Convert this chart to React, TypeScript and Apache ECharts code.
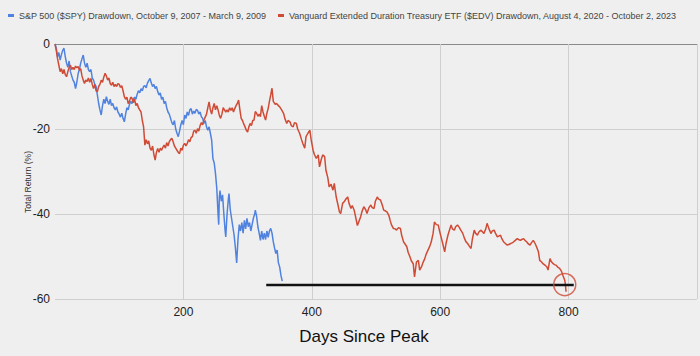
import React, { useEffect, useRef } from "react";
import * as echarts from "echarts";

const spyName = "S&P 500 ($SPY) Drawdown, October 9, 2007 - March 9, 2009";
const edvName =
  "Vanguard Extended Duration Treasury ETF ($EDV) Drawdown, August 4, 2020 - October 2, 2023";
const xTitle = "Days Since Peak";
const yTitle = "Total Return (%)";

// [day since peak, total return %]
const spyDrawdown: [number, number][] = [
  [0, 0], [2, -1], [4, -3], [6, -2], [8, -3.8], [10, -2.5], [12, -1.5], [14, -1], [16, -3], [18, -4.5],
  [20, -5.5], [22, -4], [24, -6.5], [26, -7.5], [28, -8.5], [30, -9], [32, -10.5], [34, -9], [36, -7], [38, -6],
  [40, -4.5], [42, -3.5], [44, -2.6], [46, -4.5], [48, -5.5], [50, -4.5], [52, -6], [54, -6.5], [56, -6], [58, -8],
  [60, -8.5], [62, -9.5], [64, -10], [66, -12], [68, -14], [70, -15.5], [72, -16.7], [74, -14.5], [76, -13], [78, -14],
  [80, -12.4], [82, -13.5], [84, -14.2], [86, -13], [88, -14.5], [90, -14], [92, -15], [94, -15.5], [96, -14.8], [98, -16],
  [100, -16.5], [102, -17.2], [104, -16.3], [106, -17.5], [108, -18.3], [110, -16.5], [112, -15], [114, -15.5], [116, -14.2], [118, -13.5],
  [120, -14], [122, -13], [124, -12.5], [126, -13], [128, -11.8], [130, -11], [132, -11.5], [134, -10.5], [136, -11], [138, -10],
  [140, -9.8], [142, -10.3], [144, -9.2], [146, -8.6], [148, -8.1], [150, -9.2], [152, -10], [154, -9.5], [156, -10.5], [158, -10],
  [160, -11.2], [162, -12], [164, -11.5], [166, -13], [168, -12.5], [170, -14], [172, -13.5], [174, -15], [176, -16], [178, -16.5],
  [180, -17.5], [182, -18.5], [184, -19], [186, -18], [188, -20], [190, -21], [192, -21.8], [194, -20.5], [196, -19], [198, -18],
  [200, -19], [202, -16.7], [204, -17.5], [206, -16], [208, -16.8], [210, -15.5], [212, -15.2], [214, -16.5], [216, -15.8], [218, -16.3],
  [220, -15.4], [222, -15.6], [224, -16.5], [226, -16], [228, -17.1], [230, -17.5], [232, -18.7], [234, -18], [236, -19.5], [238, -20.3],
  [240, -19.5], [242, -21], [244, -22.6], [246, -27], [248, -28], [250, -30.5], [252, -34], [254, -40], [255, -42.5], [256, -36],
  [257, -34.5], [259, -37], [261, -35.5], [263, -40], [265, -44], [266, -45.4], [268, -40], [270, -36.5], [271, -35.2], [273, -39],
  [275, -41], [277, -43], [279, -45], [281, -48], [283, -51.5], [285, -46], [287, -42.5], [289, -44], [291, -42], [293, -44.5],
  [295, -41.5], [297, -43.5], [299, -41], [301, -43], [303, -42], [305, -44], [307, -42.5], [309, -41], [311, -40], [312, -39.1],
  [314, -40.5], [316, -43], [318, -44.5], [320, -46.2], [322, -44], [324, -46], [326, -44.5], [328, -46], [330, -44], [332, -45.5],
  [334, -44], [336, -43.4], [338, -44.5], [340, -46.5], [342, -48], [344, -49.3], [346, -48.5], [348, -51.5], [350, -52.5], [352, -54.5],
  [354, -55.8],
];

const edvDrawdown: [number, number][] = [
  [0, 0], [2, -1.5], [4, -3.5], [6, -5], [8, -6.5], [10, -5.8], [12, -7], [14, -6], [16, -7.2], [18, -7.7],
  [20, -6.5], [22, -5.5], [24, -5], [26, -6], [28, -5.5], [30, -6], [32, -5.2], [34, -5.6], [36, -5.3], [38, -6.2],
  [40, -5.8], [42, -7.5], [44, -8.5], [46, -9.3], [48, -8.5], [50, -8.8], [52, -8], [54, -9], [56, -8.1], [58, -9.5],
  [60, -10.5], [62, -9.5], [64, -11], [66, -11.2], [68, -10], [70, -9.5], [72, -8.5], [74, -9], [76, -7.8], [78, -6.9],
  [80, -7.5], [82, -8.5], [84, -8], [86, -9.3], [88, -9.7], [90, -9], [92, -10], [94, -9.5], [96, -10], [98, -9.3],
  [100, -9.5], [102, -10.2], [104, -9.8], [106, -11], [108, -12.4], [110, -13], [112, -12.5], [114, -14], [116, -13.5], [118, -12.5],
  [120, -12.8], [122, -13.8], [124, -13], [126, -14.5], [128, -14], [130, -15], [132, -15.5], [134, -16], [136, -18], [138, -19.5],
  [140, -23.8], [142, -22.5], [144, -23.5], [146, -22.8], [148, -24.5], [150, -25], [152, -24], [154, -26], [156, -27.3], [158, -25.5],
  [160, -24.6], [162, -25.5], [164, -24.5], [166, -25], [168, -24.3], [170, -23.8], [172, -24.5], [174, -23.2], [176, -24], [178, -23],
  [180, -22.5], [182, -22.2], [184, -23], [186, -24], [188, -24.5], [190, -25], [192, -25.5], [194, -25.8], [196, -24.5], [198, -25],
  [200, -23.8], [202, -23.4], [204, -24], [206, -23.4], [208, -22.5], [210, -23], [212, -22], [214, -21.8], [216, -20.5], [218, -20.3],
  [220, -21], [222, -19.9], [224, -20.5], [226, -19.2], [228, -18.5], [230, -19], [232, -17.9], [234, -17.2], [236, -16.5], [238, -15],
  [240, -13.6], [242, -15.5], [244, -16.5], [246, -15], [248, -14], [250, -15.5], [252, -14.5], [254, -15.5], [256, -16.8], [258, -17.5],
  [260, -16.5], [262, -15], [264, -15.5], [266, -16], [268, -15.5], [270, -16], [272, -15], [274, -15.6], [276, -15], [278, -16],
  [280, -15.2], [282, -14.5], [284, -14], [286, -13.2], [288, -15.5], [290, -17.5], [292, -18], [294, -18.8], [296, -19.5], [298, -20.3],
  [300, -20.7], [302, -19.5], [304, -18.7], [306, -19.2], [308, -18], [310, -17.9], [312, -15.9], [314, -16.3], [316, -17], [318, -16.5],
  [320, -17.1], [322, -14.5], [324, -16], [326, -17], [328, -17.9], [330, -16.3], [332, -15.2], [334, -13.5], [336, -12], [338, -10.4],
  [340, -13.5], [343, -14.2], [345, -14], [348, -14.5], [350, -14.8], [353, -15.5], [356, -16.3], [358, -17.5], [361, -18.7], [363, -18],
  [366, -18.3], [368, -19.2], [371, -19.5], [373, -18.5], [376, -18.7], [378, -20], [381, -21], [384, -22.5], [386, -23.4], [389, -24.5],
  [391, -21.8], [394, -21], [397, -20.3], [399, -22.5], [402, -25], [404, -26], [407, -26.9], [410, -26.1], [412, -28.9], [415, -27],
  [417, -26.1], [420, -26.5], [422, -29.7], [425, -31.5], [427, -33.6], [430, -33], [433, -34.4], [435, -32.8], [438, -36], [441, -38],
  [443, -39.5], [445, -39.9], [448, -37.5], [451, -37], [453, -36.5], [456, -36], [458, -37.5], [461, -38.7], [463, -38], [466, -39.1],
  [468, -40.5], [471, -42.7], [474, -41.5], [476, -40.7], [478, -39.5], [481, -38.3], [484, -39], [486, -39.9], [489, -38.5], [492, -37.9],
  [494, -38.5], [497, -38.7], [499, -37], [502, -36], [504, -36.5], [507, -36.7], [510, -38], [512, -39.1], [515, -39.3], [517, -39.5],
  [520, -40.3], [522, -41.5], [524, -42.5], [527, -43.4], [530, -43.5], [532, -43.8], [535, -43.2], [538, -43.4], [540, -45], [543, -46.6],
  [545, -47], [548, -47.7], [550, -49], [553, -50.1], [555, -51], [558, -51.7], [560, -54.8], [563, -51.3], [566, -50.9], [568, -53.2],
  [571, -52.4], [573, -51.5], [576, -50.5], [578, -49.5], [581, -48.5], [584, -47.5], [586, -46.6], [589, -44.5], [591, -41.9], [594, -42.5],
  [597, -42.6], [599, -44], [602, -45.8], [604, -47], [607, -48.9], [609, -47], [612, -45], [614, -44], [617, -42.6], [619, -43.5],
  [622, -43.8], [624, -43], [627, -42.6], [630, -43.2], [632, -43.8], [635, -44.5], [638, -45.8], [640, -46.5], [643, -47], [645, -47.5],
  [648, -48.1], [650, -46], [653, -43.8], [655, -44.5], [658, -45], [660, -44.3], [663, -43.8], [666, -44.2], [668, -44.6], [671, -43.5],
  [673, -42.2], [676, -43.5], [679, -44.6], [681, -44], [684, -43.8], [686, -44.5], [689, -45.4], [691, -45.2], [694, -45], [696, -45.8],
  [699, -46.6], [702, -47], [704, -47.3], [707, -47.2], [709, -47], [712, -46.8], [714, -46.6], [717, -46.2], [720, -45.8], [722, -46],
  [725, -46.2], [727, -46], [730, -45.8], [732, -46.2], [735, -46.6], [737, -47], [740, -47.3], [742, -46.8], [745, -46.2], [748, -47],
  [750, -47.7], [753, -48.9], [755, -50.9], [758, -51.3], [760, -51.7], [763, -52], [766, -52.4], [768, -53.2], [771, -50.5], [773, -51.2],
  [776, -51.7], [778, -51.9], [781, -52.1], [783, -52.5], [786, -52.8], [789, -53.5], [791, -54.4], [794, -55.6], [795, -56.5], [796, -58.3],
];

const spyBottomLine: [number, number][] = [
  [329, -56.7],
  [808, -56.7],
];
const edvMarker: [number, number][] = [[794, -56.6]];

const yMin = -60;
const yMax = 0;
const yStep = 20;
const xMin = 0;
const xMax = 1000;
const xStep = 200;

const BLUE = "#4f83df";
const RED = "#d04b36";
const BG = "#efefef";
const FONT = "'Liberation Sans', Arial, sans-serif";

function makeLegend(name: string, left: number) {
  return {
    data: [name],
    left,
    top: 11,
    padding: 0,
    icon: "rect",
    itemWidth: 6,
    itemHeight: 3,
    textStyle: { fontSize: 9, color: "#444", fontFamily: FONT },
  };
}

export default function App() {
  const ref = useRef<HTMLDivElement>(null);

  useEffect(() => {
    document.body.style.margin = "0";
    document.body.style.background = BG;
    if (!ref.current) return;
    const chart = echarts.init(ref.current, undefined, { renderer: "svg" });
    chart.setOption({
      animation: false,
      backgroundColor: BG,
      textStyle: { fontFamily: FONT },
      legend: [makeLegend(spyName, 8), makeLegend(edvName, 278)],
      grid: { left: 55, top: 44, width: 650, height: 255, containLabel: false },
      xAxis: {
        type: "value",
        min: xMin,
        max: xMax,
        interval: xStep,
        axisLine: { show: false },
        axisTick: { show: false },
        axisLabel: {
          color: "#222",
          fontSize: 12,
          margin: 7,
          formatter: (v: number) => (v === xMin || v === xMax ? "" : String(v)),
        },
        splitLine: {
          show: true,
          lineStyle: { color: ["rgba(0,0,0,0)", "#cfcfcf", "#cfcfcf", "#cfcfcf", "#cfcfcf", "#cfcfcf"], width: 1 },
        },
      },
      yAxis: {
        type: "value",
        min: yMin,
        max: yMax,
        interval: yStep,
        axisLine: { show: false },
        axisTick: { show: false },
        axisLabel: { color: "#222", fontSize: 12, margin: 5 },
        splitLine: {
          show: true,
          lineStyle: { color: ["#cfcfcf", "#cfcfcf", "#cfcfcf", "#8a8a8a"], width: 1 },
        },
      },
      graphic: [
        {
          type: "text",
          x: 364,
          y: 336,
          style: {
            text: xTitle,
            fontSize: 17,
            fill: "#111",
            fontFamily: FONT,
            textAlign: "center",
            textVerticalAlign: "middle",
          },
        },
        {
          type: "text",
          x: 28,
          y: 182,
          rotation: Math.PI / 2,
          style: {
            text: yTitle,
            fontSize: 8.6,
            fill: "#333",
            fontFamily: FONT,
            textAlign: "center",
            textVerticalAlign: "middle",
          },
        },
      ],
      series: [
        {
          name: spyName,
          type: "line",
          data: spyDrawdown,
          showSymbol: false,
          symbol: "none",
          color: BLUE,
          lineStyle: { color: BLUE, width: 1.5 },
        },
        {
          name: edvName,
          type: "line",
          data: edvDrawdown,
          showSymbol: false,
          symbol: "none",
          color: RED,
          lineStyle: { color: RED, width: 1.5 },
        },
        {
          name: "spy-low",
          type: "line",
          data: spyBottomLine,
          showSymbol: false,
          symbol: "none",
          lineStyle: { color: "#111", width: 2.5 },
          z: 5,
        },
        {
          name: "edv-marker",
          type: "scatter",
          data: edvMarker,
          symbol: "circle",
          symbolSize: 22,
          itemStyle: { color: "rgba(0,0,0,0)", borderColor: RED, borderWidth: 1.5 },
          z: 6,
        },
      ],
    });
    return () => chart.dispose();
  }, []);

  return <div ref={ref} style={{ width: 700, height: 356 }} />;
}
